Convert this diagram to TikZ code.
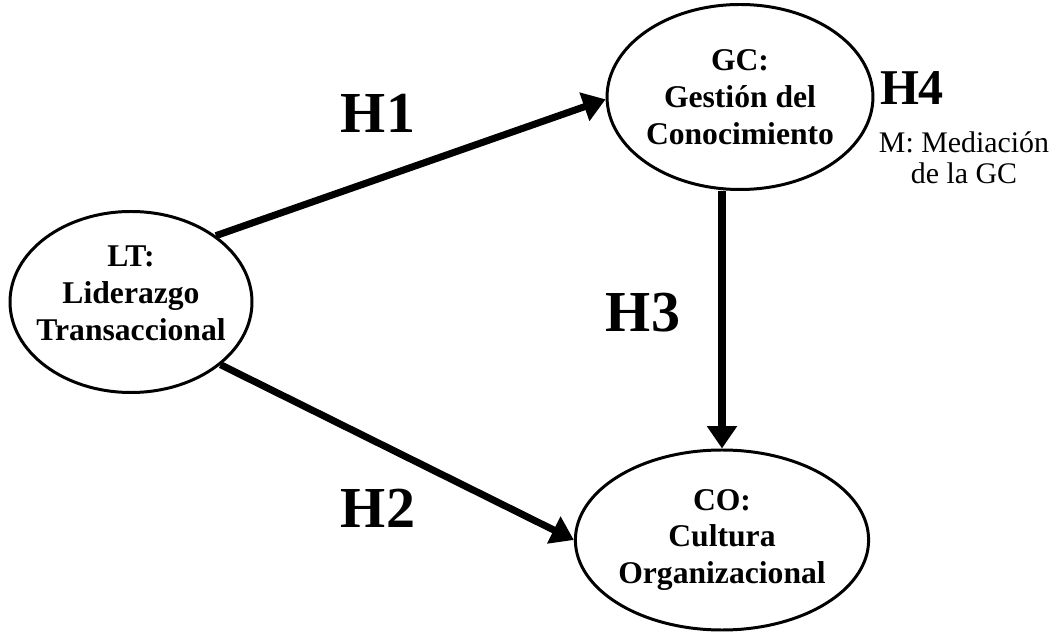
\documentclass[tikz,border=0pt]{standalone}
\usepackage{fontspec}
\setmainfont{Liberation Serif}
\usepackage{tikz}
\usetikzlibrary{positioning,arrows.meta,shapes.geometric,calc}

\begin{document}
\begin{tikzpicture}[
    construct/.style={ellipse, draw=black, line width=1.7pt, fill=white,
                 inner sep=0pt, align=center,
                 font=\bfseries\fontsize{18}{21}\selectfont},
    hlabel/.style={inner sep=0pt, font=\bfseries\fontsize{33}{36}\selectfont},
    arrow/.style={-{Triangle[length=0.45cm, width=0.58cm]}, line width=4pt}
]
    \useasboundingbox (0,0) rectangle (21.04,12.64);
    \node[construct, minimum width=4.84cm, minimum height=3.62cm,
        label={[align=center, font=\bfseries\fontsize{18}{21}\selectfont, yshift=0.18cm]center:{LT:\\Liderazgo\\Transaccional}}]
        (lt) at (2.62,6.60) {};
    \node[construct, minimum width=5.0cm, minimum height=3.7cm] (gc) at (14.80,10.70)
        {GC:\\Gestión del\\Conocimiento};
    \node[construct, minimum width=4.9cm, minimum height=3.6cm] (co) at (14.44,1.84)
        {CO:\\Cultura\\Organizacional};
    \draw[arrow] (lt.38) -- (gc.181);
    \draw[arrow] (lt.-35) -- (co.180);
    \draw[arrow] (gc.south -| co.north) -- (co.north);
    \node[hlabel] (h1) at (7.56,10.38) {H1};
    \node[hlabel] (h2) at (7.56,2.48) {H2};
    \node[hlabel] (h3) at (12.86,6.38) {H3};
    \node[hlabel, font=\bfseries\fontsize{28.5}{32}\selectfont] (h4) at (18.24,10.88) {H4};
    \node[inner sep=0pt, align=center, font=\fontsize{17}{17.6}\selectfont] (med) at (19.28,9.49)
        {M: Mediación\\de la GC};
\end{tikzpicture}
\end{document}
